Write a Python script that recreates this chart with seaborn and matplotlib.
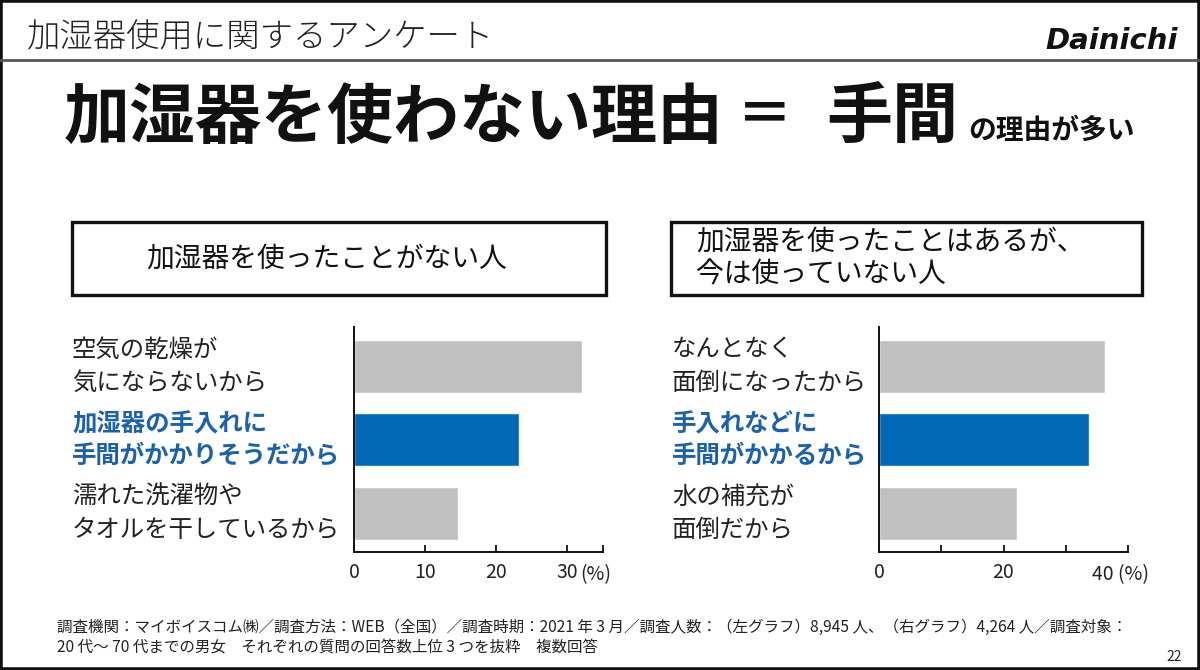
import numpy as np
import matplotlib
matplotlib.use("Agg")
import matplotlib.pyplot as plt
import matplotlib.transforms as mtrans
from matplotlib.patches import Rectangle
from matplotlib.lines import Line2D
import seaborn as sns

# ── Data ──────────────────────────────────────────────────────────────────────
left_labels = ["空気の乾燥が\n気にならないから",
               "加湿器の手入れに\n手間がかかりそうだから",
               "濡れた洗濯物や\nタオルを干しているから"]
left_values = [32.1, 23.2, 14.6]
left_ticks = [0, 10, 20, 30, 35]
left_ticklabels = ["0", "10", "20", "30", ""]

right_labels = ["なんとなく\n面倒になったから",
                "手入れなどに\n手間がかかるから",
                "水の補充が\n面倒だから"]
right_values = [36.3, 33.7, 22.2]
right_ticks = [0, 10, 20, 30, 40]
right_ticklabels = ["0", "", "20", "", ""]

highlight = [False, True, False]

# ── Style ─────────────────────────────────────────────────────────────────────
GRAY = "#c0c0c1"
BLUE = "#0068b7"
LABEL_BLUE = "#1a62ad"
sns.set_theme(style="white")
plt.rcParams["font.family"] = ["Noto Sans CJK JP", "DejaVu Sans"]

W, H = 1200, 670


def fx(px):
    return px / W


def fy(py):
    return 1 - py / H


fig = plt.figure(figsize=(12, 6.7), dpi=100)
fig.patch.set_facecolor("white")

# ── Header ────────────────────────────────────────────────────────────────────
fig.text(fx(27), fy(38), "加湿器使用に関するアンケート", fontsize=24, fontweight="light",
         ha="left", va="center", color="#222222")
fig.text(fx(1178), fy(41), "Dainichi", fontsize=21, fontweight="bold", style="italic",
         family="DejaVu Sans", ha="right", va="center", color="#111111")
fig.add_artist(Line2D([0, 1], [fy(60), fy(60)], color="#555555", lw=2,
                      transform=fig.transFigure))

fig.text(fx(64), fy(118), "加湿器を使わない理由", fontsize=47.5, fontweight="bold",
         ha="left", va="center", color="#111111")
fig.text(fx(765), fy(116), "＝", fontsize=40, fontweight="bold",
         ha="center", va="center", color="#111111")
fig.text(fx(826), fy(118), "手間", fontsize=47.5, fontweight="bold",
         ha="left", va="center", color="#111111")
fig.text(fx(968), fy(131), "の理由が多い", fontsize=20, fontweight="bold",
         ha="left", va="center", color="#111111")

# ── Group boxes ───────────────────────────────────────────────────────────────
for x0, x1 in [(72, 606), (671, 1142)]:
    fig.add_artist(Rectangle((fx(x0), fy(295)), fx(x1 - x0), (295 - 222) / H,
                             fill=False, ec="#111111", lw=2.4, transform=fig.transFigure))
fig.text(fx(327), fy(259), "加湿器を使ったことがない人", fontsize=20,
         ha="center", va="center", color="#111111")
fig.text(fx(696), fy(258), "加湿器を使ったことはあるが、\n今は使っていない人", fontsize=20,
         ha="left", va="center", color="#111111", linespacing=1.1)


# ── Bar charts ────────────────────────────────────────────────────────────────
def draw_panel(rect, labels, values, ticks, ticklabels, xmax, label_x,
               unit_text, unit_x, unit_dx):
    ax = fig.add_axes(rect)
    colors = [BLUE if h else GRAY for h in highlight]
    sns.barplot(x=values, y=labels, hue=labels, palette=colors, orient="h",
                width=0.72, saturation=1, legend=False, ax=ax)
    ax.set_xlim(0, xmax)
    ax.set_ylim(2.52, -0.53)
    ax.set_xticks(ticks)
    ax.set_xticklabels(ticklabels)
    ax.set_xlabel("")
    ax.set_ylabel("")
    ax.tick_params(axis="y", left=False, labelleft=False)
    ax.tick_params(axis="x", direction="in", length=5, width=1.3, color="#111111",
                   labelsize=14, labelcolor="#222222", pad=7, bottom=True)
    for s in ["top", "right"]:
        ax.spines[s].set_visible(False)
    for s in ["left", "bottom"]:
        ax.spines[s].set_color("#111111")
        ax.spines[s].set_linewidth(1.4)
    ax.annotate(unit_text, xy=(unit_x, 0), xycoords=("data", "axes fraction"),
                xytext=(unit_dx, -8.5), textcoords="offset points", ha="left", va="top",
                fontsize=14, color="#222222")
    trans = mtrans.blended_transform_factory(fig.transFigure, ax.transData)
    for i, lab in enumerate(labels):
        ax.text(fx(label_x), i, lab, transform=trans, ha="left", va="center",
                fontsize=17.6, linespacing=1.35,
                color=LABEL_BLUE if highlight[i] else "#222222",
                fontweight="bold" if highlight[i] else "normal")
    return ax


draw_panel([fx(354), fy(552), (603 - 354) / W, (552 - 327) / H],
           left_labels, left_values, left_ticks, left_ticklabels, 35, 72,
           "(%)", 30, 9)
draw_panel([fx(879), fy(552), (1128 - 879) / W, (552 - 327) / H],
           right_labels, right_values, right_ticks, right_ticklabels, 40, 672,
           "40 (%)", 40, -26)

# ── Footnote ──────────────────────────────────────────────────────────────────
fig.text(fx(57), fy(638),
         "調査機関：マイボイスコム㈱／調査方法：WEB（全国）／調査時期：2021 年 3 月／調査人数：（左グラフ）8,945 人、（右グラフ）4,264 人／調査対象：\n"
         "20 代～ 70 代までの男女　それぞれの質問の回答数上位 3 つを抜粋　複数回答",
         fontsize=11.2, ha="left", va="center", color="#222222", linespacing=1.3)
fig.text(fx(1182), fy(657), "22", fontsize=10, ha="right", va="center", color="#222222")

fig.add_artist(Rectangle((0, 0), 1, 1, fill=False, ec="#111111", lw=4,
                         transform=fig.transFigure))

fig.savefig("out.png", dpi=100, facecolor="white")
